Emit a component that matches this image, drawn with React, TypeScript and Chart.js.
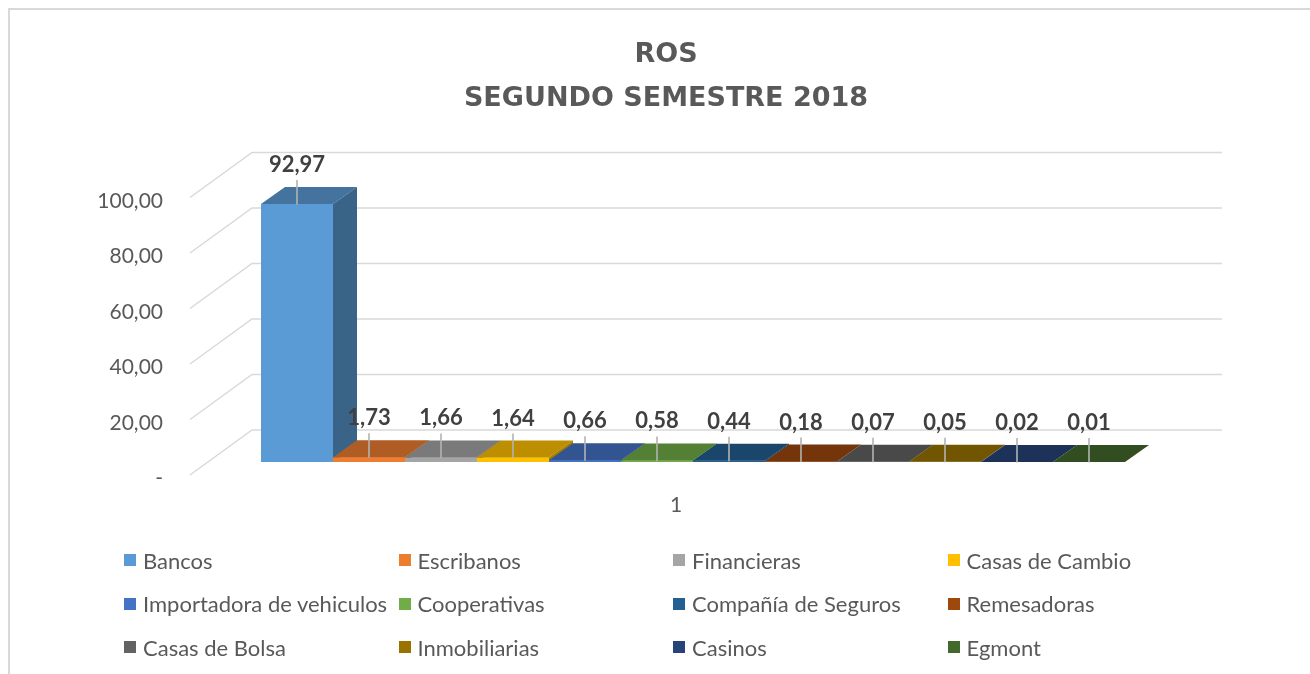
import React, { useEffect, useRef } from 'react';
import { Chart, registerables } from 'chart.js';

Chart.register(...registerables);

const categories = ['1'];
const seriesNames = [
  'Bancos', 'Escribanos', 'Financieras', 'Casas de Cambio',
  'Importadora de vehiculos', 'Cooperativas', 'Compañía de Seguros', 'Remesadoras',
  'Casas de Bolsa', 'Inmobiliarias', 'Casinos', 'Egmont',
];
const seriesValues = [92.97, 1.73, 1.66, 1.64, 0.66, 0.58, 0.44, 0.18, 0.07, 0.05, 0.02, 0.01];
const seriesColors = [
  '#5B9BD5', '#ED7D31', '#A5A5A5', '#FFC000',
  '#4472C4', '#70AD47', '#255E91', '#9E480E',
  '#636363', '#997300', '#264478', '#43682B',
];
const titleLines = ['ROS', 'SEGUNDO SEMESTRE 2018'];
const yMin = 0;
const yMax = 100;
const yStep = 20;

const fmt = (v: number) => (v === 0 ? '-' : v.toFixed(2).replace('.', ','));

function shade(hex: string, f: number) {
  const n = parseInt(hex.slice(1), 16);
  const r = Math.round(((n >> 16) & 255) * f);
  const g = Math.round(((n >> 8) & 255) * f);
  const b = Math.round((n & 255) * f);
  return `rgb(${r},${g},${b})`;
}

// 3D projection offsets (pixels)
const BAR_DX = 24, BAR_DY = 17;
const FRONT_DX = -18, FRONT_DY = 13;
const BACK_DX = 44, BACK_DY = 32;

const poly = (ctx: CanvasRenderingContext2D, pts: number[][]) => {
  ctx.beginPath();
  ctx.moveTo(pts[0][0], pts[0][1]);
  for (let i = 1; i < pts.length; i++) ctx.lineTo(pts[i][0], pts[i][1]);
  ctx.closePath();
  ctx.fill();
};

const threeD = {
  id: 'threeD',
  beforeDatasetsDraw(chart: any) {
    const { ctx, chartArea, scales } = chart;
    const y = scales.y;
    ctx.save();
    ctx.strokeStyle = '#d9d9d9';
    ctx.lineWidth = 1.5;
    for (const t of y.ticks) {
      const py = y.getPixelForValue(t.value);
      ctx.beginPath();
      ctx.moveTo(chartArea.left + FRONT_DX, py + FRONT_DY);
      ctx.lineTo(chartArea.left + BACK_DX, py - BACK_DY);
      ctx.lineTo(chartArea.right + BACK_DX, py - BACK_DY);
      ctx.stroke();
    }
    ctx.restore();
  },
  afterDatasetsDraw(chart: any) {
    const { ctx } = chart;
    const metas = chart
      .getSortedVisibleDatasetMetas()
      .slice()
      .sort((a: any, b: any) => a.data[0].x - b.data[0].x);
    ctx.save();
    for (const meta of metas) {
      const bar = meta.data[0];
      const color = seriesColors[meta.index];
      const { x, y, base, width } = bar.getProps(['x', 'y', 'base', 'width'], true);
      const l = x - width / 2;
      const r = x + width / 2;
      bar.draw(ctx);
      ctx.fillStyle = shade(color, 0.74);
      poly(ctx, [[l, y], [r, y], [r + BAR_DX, y - BAR_DY], [l + BAR_DX, y - BAR_DY]]);
      ctx.fillStyle = shade(color, 0.64);
      poly(ctx, [[r, y], [r + BAR_DX, y - BAR_DY], [r + BAR_DX, base - BAR_DY], [r, base]]);
    }
    // data labels with leader lines
    for (const meta of metas) {
      const bar = meta.data[0];
      const { x, y } = bar.getProps(['x', 'y'], true);
      const v = seriesValues[meta.index];
      ctx.strokeStyle = '#b3b3b3';
      ctx.lineWidth = 1.6;
      ctx.beginPath();
      ctx.moveTo(x, y - 24);
      ctx.lineTo(x, y + 0.5);
      ctx.stroke();
      ctx.fillStyle = '#404040';
      ctx.font = 'bold 22px Lato';
      ctx.textAlign = 'center';
      ctx.textBaseline = 'middle';
      ctx.fillText(fmt(v), x, y - 39);
    }
    ctx.restore();
  },
};

export default function App() {
  const ref = useRef<HTMLCanvasElement | null>(null);

  useEffect(() => {
    if (!ref.current) return;
    const chart = new Chart(ref.current, {
      type: 'bar',
      data: {
        labels: categories,
        datasets: seriesNames.map((name, i) => ({
          label: name,
          data: [seriesValues[i]],
          backgroundColor: seriesColors[i],
          borderWidth: 0,
          categoryPercentage: 0.8907,
          barPercentage: 1,
        })),
      },
      options: {
        responsive: false,
        animation: false,
        events: [],
        layout: { padding: { top: 0, left: 12, right: 0, bottom: 150 } },
        plugins: {
          legend: { display: false },
          tooltip: { enabled: false },
          title: {
            display: true,
            text: titleLines,
            color: '#595959',
            font: { family: 'DejaVu Sans', weight: 'bold', size: 27, lineHeight: 44 / 27 },
            padding: { top: 23, bottom: 63.5 },
          },
        },
        scales: {
          x: {
            grid: { display: false, drawTicks: false },
            border: { display: false },
            ticks: {
              color: '#595959',
              font: { family: 'Lato', size: 21 },
              padding: 30.4,
              labelOffset: -17,
            },
            afterFit: (s: any) => { s.height = 62; },
          },
          y: {
            min: yMin,
            max: yMax,
            grid: { display: false, drawTicks: false },
            border: { display: false },
            ticks: {
              stepSize: yStep,
              color: '#595959',
              font: { family: 'Lato', size: 21 },
              padding: 45,
              labelOffset: 16.5,
              callback: (v: any) => fmt(Number(v)),
            },
            afterFit: (s: any) => { s.width = 186; },
          },
          yRightSpace: {
            type: 'linear',
            position: 'right',
            display: true,
            grid: { display: false, drawTicks: false },
            border: { display: false },
            ticks: { display: false },
            afterFit: (s: any) => { s.width = 132; },
          },
        },
      },
      plugins: [threeD],
    } as any);
    return () => chart.destroy();
  }, []);

  return (
    <div
      style={{
        position: 'fixed', left: 8, top: 8, width: 1302, height: 666,
        boxSizing: 'border-box', borderTop: '2px solid #d9d9d9', borderLeft: '2px solid #d9d9d9',
        background: '#fff', overflow: 'hidden',
      }}
    >
      <canvas
        ref={ref}
        width={1300}
        height={664}
        style={{ position: 'absolute', left: 0, top: 0, width: 1300, height: 664, display: 'block' }}
      />
      {seriesNames.map((name, i) => (
        <div
          key={name}
          style={{
            position: 'absolute',
            left: 114 + (i % 4) * 274.5,
            top: 550 - 13 + Math.floor(i / 4) * 43.5,
            height: 26,
            display: 'flex',
            alignItems: 'center',
            whiteSpace: 'nowrap',
            fontFamily: 'Lato',
            fontSize: 22,
            color: '#595959',
          }}
        >
          <span style={{ display: 'inline-block', width: 12, height: 12, background: seriesColors[i], marginRight: 7 }} />
          <span>{name}</span>
        </div>
      ))}
    </div>
  );
}
